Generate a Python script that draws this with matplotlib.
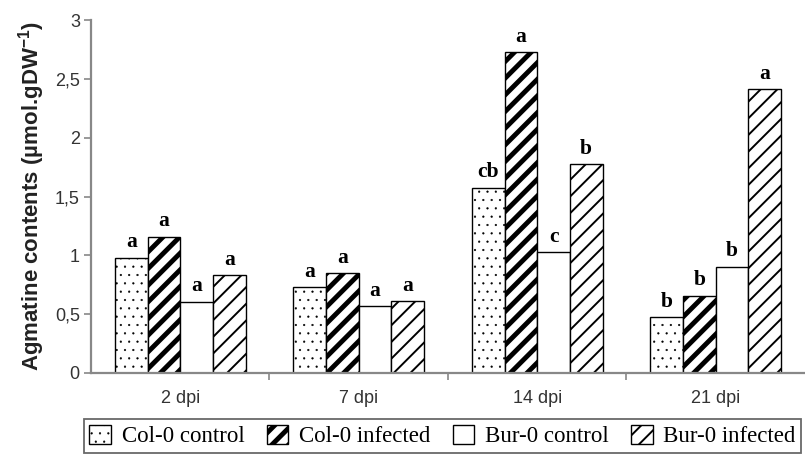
import matplotlib
matplotlib.use("Agg")
import matplotlib.pyplot as plt
import numpy as np

# Datos
groups = ["2 dpi", "7 dpi", "14 dpi", "21 dpi"]
series = ["Col-0 control", "Col-0 infected", "Bur-0 control", "Bur-0 infected"]
col_control = [0.98, 0.728, 1.575, 0.473]
col_infected = [1.16, 0.847, 2.725, 0.657]
bur_control = [0.606, 0.57, 1.025, 0.903]
bur_infected = [0.83, 0.61, 1.773, 2.41]
letters_col_control = ["a", "a", "cb", "b"]
letters_col_infected = ["a", "a", "a", "b"]
letters_bur_control = ["a", "a", "c", "b"]
letters_bur_infected = ["a", "a", "b", "a"]
y_ticks = [0, 0.5, 1, 1.5, 2, 2.5, 3]
y_tick_labels = ["0", "0,5", "1", "1,5", "2", "2,5", "3"]

values = [col_control, col_infected, bur_control, bur_infected]
letters = [letters_col_control, letters_col_infected,
           letters_bur_control, letters_bur_infected]
hatches = ["..", "//", "", "//"]
hatch_lw = [0.35, 3.5, 1.0, 1.4]

fig = plt.figure(figsize=(8.05, 4.58), dpi=100)
ax = fig.add_axes([0.113, 0.1856, 0.887, 0.7707])

x = np.arange(len(groups))
width = 0.183
offsets = [-1.5 * width, -0.5 * width, 0.5 * width, 1.5 * width]

for vals, labs, h, hl, off, name in zip(values, letters, hatches, hatch_lw, offsets, series):
    bars = ax.bar(x + off, vals, width, color="white", edgecolor="black",
                  linewidth=1.0, hatch=h, label=name, zorder=2)
    for b in bars:
        try:
            b.set_hatch_linewidth(hl)
        except AttributeError:
            pass
    for b, lab in zip(bars, labs):
        ax.text(b.get_x() + b.get_width() / 2, b.get_height() + 0.045, lab,
                ha="center", va="bottom", fontsize=15.5, fontweight="bold",
                family="Liberation Serif")

ax.set_xlim(-0.5, 3.5)
ax.set_ylim(0, 3)
ax.set_yticks(y_ticks)
ax.set_yticklabels(y_tick_labels, family="Liberation Sans", fontsize=13, color="#333333")
ax.set_xticks(x)
ax.set_xticklabels(groups, family="Liberation Sans", fontsize=13, color="#333333")
ax.set_xticks([0.5, 1.5, 2.5], minor=True)
ax.tick_params(axis="x", which="major", length=0, pad=12)
ax.tick_params(axis="x", which="minor", length=5, color="#888888", width=1.2, direction="out")
ax.tick_params(axis="y", length=5, color="#888888", width=1.2, pad=3)

for s in ["top", "right"]:
    ax.spines[s].set_visible(False)
for s in ["left", "bottom"]:
    ax.spines[s].set_color("#888888")
    ax.spines[s].set_linewidth(1.6)

ax.set_ylabel("Agmatine contents (µmol.gDW$^{\\mathregular{-1}}$)", family="Liberation Sans",
              fontsize=16, fontweight="bold", color="#222222", labelpad=6)

leg = fig.legend(loc="upper left", bbox_to_anchor=(0.104, 0.0, 0.891, 0.0852),
                 mode="expand", ncol=4, frameon=True, fancybox=False,
                 prop={"family": "Liberation Serif", "size": 16.5},
                 handlelength=0.95, handleheight=0.95, handletextpad=0.45,
                 borderaxespad=0, borderpad=0.25, columnspacing=0.4)
leg.get_frame().set_edgecolor("#444444")
leg.get_frame().set_linewidth(1.3)
for handle, hl in zip(leg.legend_handles, hatch_lw):
    try:
        handle.set_hatch_linewidth(hl)
    except AttributeError:
        pass

fig.savefig("out.png", dpi=100)
